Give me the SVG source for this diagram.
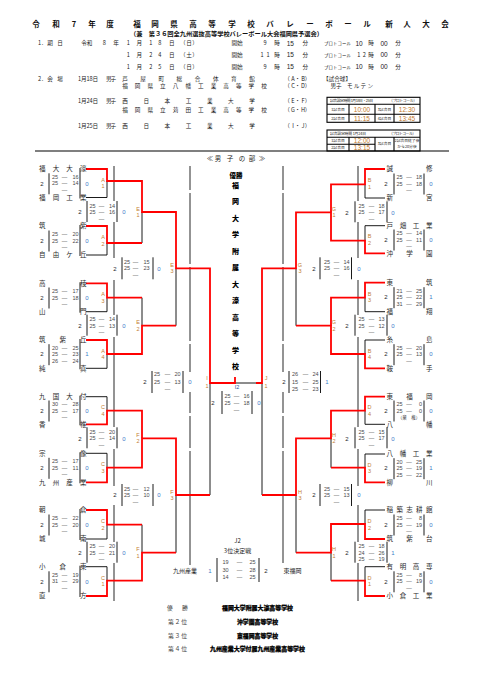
<svg xmlns="http://www.w3.org/2000/svg" width="477" height="677" viewBox="0 0 477 677">
<style>
text{font-family:"Noto Sans CJK JP","Noto Sans CJK SC",sans-serif}
.tt{font-size:7.5px;font-weight:bold;fill:#111;text-anchor:middle}
.st{font-size:6.2px;font-weight:bold;fill:#111}
.hd{font-size:5.6px;fill:#222}
.tn{font-family:"Liberation Sans",sans-serif;font-size:6.5px;fill:#222;text-anchor:middle}
.pr{font-size:4.4px;fill:#222}
.tb{font-size:3.8px;fill:#222}
.tm{font-family:"Liberation Sans",sans-serif;font-size:6.5px;fill:#c47a2c;text-anchor:middle}
.c{text-anchor:middle}
.e{text-anchor:end}
.n{font-size:6.5px;fill:#2a2a2a}
.s{font-family:"Liberation Sans",sans-serif;font-size:5.5px;fill:#4a4a4a}
.w{font-family:"Liberation Sans",sans-serif;font-size:6px;fill:#2a2a2a;text-anchor:middle}
.l{font-family:"Liberation Sans",sans-serif;font-size:6px;fill:#3d7cc9;text-anchor:middle}
.lb{font-family:"Liberation Sans",sans-serif;font-size:5.5px;fill:#c27d32;text-anchor:middle}
.k{stroke:#000;stroke-width:0.9;fill:none}
.ln{stroke:#000;stroke-width:0.85;fill:none}
.r{stroke:#f00;stroke-width:1.8;fill:none}
.tbl{stroke:#000;stroke-width:1.1;fill:none}
.v{font-size:7px;font-weight:900;fill:#000;text-anchor:middle}
.rl{font-size:5.8px;fill:#444}
.rb{font-size:6px;font-weight:900;fill:#000;stroke:#000;stroke-width:0.25}
.m{font-size:6px;fill:#222}
</style>

<g id="header">
<text class="tt" x="36 56 74 92 110 137 155 174 193 212 232 251 270 290 310 329 348 367 389 407 426 445" y="27">令和7年度福岡県高等学校バレーボール新人大会</text>
<text class="st" x="130" y="35.6" textLength="193" lengthAdjust="spacingAndGlyphs">（兼　第３６回全九州選抜高等学校バレーボール大会福岡県予選会）</text>

<text class="hd c" x="39.5 42.5 50 60" y="45.3">1.期日</text>
<text class="hd c" x="84 89.5 104.3 116" y="45.3">令和8年</text>
<text class="hd c" x="128.3 139.3 150.7 159.7 171.7 182.7 189 195" y="45.3">1月18日（日）</text>
<text class="hd c" x="237" y="45.3">開始</text>
<text class="hd c" x="265 277" y="45.3">9時</text><text class="tn" x="290.3" y="45.5">15</text><text class="hd c" x="305.3" y="45.3">分</text>
<text class="pr" x="324" y="45.3" textLength="27">プロトコール</text>
<text class="tn" x="359" y="45.5">10</text><text class="hd c" x="371" y="45.3">時</text><text class="tn" x="384" y="45.5">00</text><text class="hd c" x="398" y="45.3">分</text>

<text class="hd c" x="128.3 139.3 150.7 159.7 171.7 182.7 189 195" y="56.5">1月24日（土）</text>
<text class="hd c" x="237" y="56.5">開始</text>
<text class="hd c" x="262 268 277" y="56.5">11時</text><text class="tn" x="290.3" y="56.7">15</text><text class="hd c" x="305.3" y="56.5">分</text>
<text class="pr" x="324" y="56.5" textLength="27">プロトコール</text>
<text class="hd c" x="358.7 364.3 371" y="56.5">12時</text><text class="tn" x="384" y="56.7">00</text><text class="hd c" x="398" y="56.5">分</text>

<text class="hd c" x="128.3 139.3 150.7 159.7 171.7 182.7 189 195" y="68.5">1月25日（日）</text>
<text class="hd c" x="237" y="68.5">開始</text>
<text class="hd c" x="265 277" y="68.5">9時</text><text class="tn" x="290.3" y="68.7">15</text><text class="hd c" x="305.3" y="68.5">分</text>
<text class="pr" x="324" y="68.5" textLength="27">プロトコール</text>
<text class="tn" x="359" y="68.7">10</text><text class="hd c" x="371" y="68.5">時</text><text class="tn" x="384" y="68.7">00</text><text class="hd c" x="398" y="68.5">分</text>

<text class="hd c" x="39.5 42.5 50 60" y="80.7">2.会場</text>
<text class="hd" x="78" y="80.7" textLength="20">1月18日</text>
<text class="hd" x="106" y="80.7" textLength="10">男子</text>
<text class="hd c" x="125 143.1 161.3 179.4 197.6 215.7 233.9 252" y="80.7">芦屋町総合体育館</text>
<text class="hd c" x="287 293 297.5 303 307.5" y="80.7">（A・B）</text>
<text class="hd c" x="337" y="80.7">【試合球】</text>
<text class="hd c" x="125 137.6 150.3 162.9 175.5 188.2 200.8 213.5 226.1 238.7 251.4 264" y="88">福岡県立八幡工業高等学校</text>
<text class="hd c" x="287 293 297.5 303 307.5" y="88">（C・D）</text>
<text class="hd c" x="336" y="88">男子</text>
<text class="hd" x="347" y="88" textLength="26">モルテン</text>

<text class="hd" x="78" y="103" textLength="20">1月24日</text>
<text class="hd" x="106" y="103" textLength="10">男子</text>
<text class="hd c" x="125 146.2 167.3 188.5 209.7 230.8 252" y="103">西日本工業大学</text>
<text class="hd c" x="287 293 297.5 303 307.5" y="103">（E・F）</text>
<text class="hd c" x="125 137.6 150.3 162.9 175.5 188.2 200.8 213.5 226.1 238.7 251.4 264" y="111.5">福岡県立苅田工業高等学校</text>
<text class="hd c" x="287 293 297.5 303 307.5" y="111.5">（G・H）</text>

<text class="hd" x="78" y="128" textLength="20">1月25日</text>
<text class="hd" x="106" y="128" textLength="10">男子</text>
<text class="hd c" x="125 146.2 167.3 188.5 209.7 230.8 252" y="128">西日本工業大学</text>
<text class="hd c" x="287 293 297.5 303 307.5" y="128">（I・J）</text>

<line class="tbl" x1="35" y1="151" x2="449" y2="151"/>
<text class="c" style="font-size:6.5px;fill:#222" x="210 218 230 242 252 262" y="160.5">≪男子の部≫</text>
</g>

<g id="table-1">
<rect class="tbl" x="327" y="97.3" width="93" height="25"/>
<path class="tbl" d="M327 104.3H420M327 114.3H420M349 104.3V122.3M375 104.3V122.3M394 104.3V122.3"/>
<text class="tb" x="330" y="102.3" textLength="43">試合設定時間 1月18日・25日</text>
<text class="tb" x="389" y="102.3" textLength="28">（プロトコール）</text>
<text class="tb c" x="338" y="110.7">1試合目</text><text class="tm" x="362" y="111.8">10:00</text>
<text class="tb c" x="384.5" y="110.7">3試合目</text><text class="tm" x="407" y="111.8">12:30</text>
<text class="tb c" x="338" y="119.7">2試合目</text><text class="tm" x="362" y="120.8">11:15</text>
<text class="tb c" x="384.5" y="119.7">4試合目</text><text class="tm" x="407" y="120.8">13:45</text>
</g>

<g id="table-2">
<rect class="tbl" x="327" y="130" width="93" height="21"/>
<path class="tbl" d="M327 137.3H420M327 144.3H375M349 137.3V151M375 137.3V151M394 137.3V151"/>
<text class="tb" x="330" y="135" textLength="36">試合設定時間 1月24日</text>
<text class="tb" x="389" y="135" textLength="27">（プロトコール）</text>
<text class="tb c" x="338" y="142.2">1試合目</text><text class="tm" x="362" y="143.1">12:00</text>
<text class="tb c" x="338" y="149.2">2試合目</text><text class="tm" x="362" y="150.1">13:15</text>
<text class="tb c" x="384.5" y="145.4">3試合目</text>
<text class="tb c" x="407" y="142.3">2試合目終了後</text>
<text class="tb c" x="407" y="147.6">から20分後</text>
</g>

<g id="connectors">
<path class="ln" d="M114 166V201M114 222V258M114 280V315M114 337V427M114 449V486M114 505V542M114 563V601"/>
<path class="ln" d="M190 166V190M190 193V264M190 267V341M190 344V372M190 392V413M190 416V448M190 451V565"/>
<path class="ln" d="M283 166V190M283 193V264M283 267V341M283 344V372M283 392V413M283 416V448M283 451V563"/>
<path class="ln" d="M358 166V201M358 222V258M358 280V315M358 337V427M358 449V486M358 505V542M358 563V601"/>

<path class="k" d="M86 197.5H107V181M86 255H107V243M142 212V243M86 311.7H107V297.7M86 368.3H107V354M142 297.7V325.7M176 268.3V325.7M86 396.7H107V410.7M86 453.3H107V467.7M86 539H107V524.7M86 566.7H107V580.7M142 524.7V552.7M176 495V552.7M210 383V495M235 383H256"/>
<path class="k" d="M385 198H365V184.3M385 225.7H365V240.7M385 311.7H365V297.7M385 340H365V354M296 268.3V325.7M385 424.3H365V410.7M385 454H365V467.7M331 438.3V467.7M385 510H365V524M385 566.7H365V580.7M331 552.7V580.7M296 495V552.7M262 383V495"/>

<path class="r" d="M86 169H107V181H142V212H176V268.3H210V383H235V377"/>
<path class="r" d="M86 226H107V243H142"/>
<path class="r" d="M86 283.3H107V297.7H142"/>
<path class="r" d="M86 340H107V354H142V325.7H176"/>
<path class="r" d="M86 424.3H107V410.7H142V438.3"/>
<path class="r" d="M86 482.3H107V467.7H142V438.3H176V495H210"/>
<path class="r" d="M86 510H107V524.7H142"/>
<path class="r" d="M86 596H107V580.7H142V552.7H176"/>

<path class="r" d="M385 169H365V184.3H331V212.3"/>
<path class="r" d="M385 253.3H365V240.7H331V212.3H296V268.3H262V383H256"/>
<path class="r" d="M385 282.7H365V297.7H331V325.7"/>
<path class="r" d="M385 368.3H365V354H331V325.7H296"/>
<path class="r" d="M385 396.7H365V410.7H331V438.3H296V495H262"/>
<path class="r" d="M385 482.3H365V467.7H331"/>
<path class="r" d="M385 539H365V524H331V552.7H296"/>
<path class="r" d="M385 596H365V580.7H331"/>
</g>

<g id="m-A1">
<text class="n" x="39 52.7 66.3 80" y="171.4">福大大濠</text>
<text class="n" x="39 52.7 66.3 80" y="199.9">福岡工業</text>
<text class="w" x="42" y="185.5">2</text>
<path class="k" d="M49 173.3V194.3M80 168V198.5"/>
<text class="s" x="52 55.1 61.8 72.4 75.4" y="178.7">25—16</text>
<text class="s" x="52 55.1 61.8 72.4 75.4" y="185.3">25—14</text>
<text class="s c" x="64.5" y="192">—</text>
<text class="l" x="87" y="185.5">0</text>
<text class="lb" x="103 103" y="181.8 188.3">A1</text>
</g>
<g id="m-A2">
<text class="n" x="39 80" y="228.4">筑紫</text>
<text class="n" x="39 52.7 66.3 80" y="257.4">自由ケ丘</text>
<text class="w" x="42" y="242.7">2</text>
<path class="k" d="M49 230.5V251.5M80 225V256"/>
<text class="s" x="52 55.1 61.8 72.4 75.4" y="236">25—20</text>
<text class="s" x="52 55.1 61.8 72.4 75.4" y="242.5">25—22</text>
<text class="s c" x="64.5" y="249">—</text>
<text class="l" x="87" y="242.7">0</text>
<text class="lb" x="103 103" y="239 245.5">A2</text>
</g>
<g id="m-A3">
<text class="n" x="39 80" y="285.7">高稜</text>
<text class="n" x="39 80" y="314.1">山門</text>
<text class="w" x="42" y="299.7">2</text>
<path class="k" d="M49 287.5V308.5M80 282.3V312.7"/>
<text class="s" x="52 55.1 61.8 72.4 75.4" y="293">25—17</text>
<text class="s" x="52 55.1 61.8 72.4 75.4" y="299.5">25—18</text>
<text class="s c" x="64.5" y="306">—</text>
<text class="l" x="87" y="299.7">0</text>
<text class="lb" x="103 103" y="296 302.5">A3</text>
</g>
<g id="m-A4">
<text class="n" x="39 59.5 80" y="342.4">筑紫丘</text>
<text class="n" x="39 80" y="370.7">純真</text>
<text class="w" x="42" y="356.4">2</text>
<path class="k" d="M49 344.2V365.2M80 339V369.3"/>
<text class="s" x="52 55.1 61.8 72.4 75.4" y="349.7">20—25</text>
<text class="s" x="52 55.1 61.8 72.4 75.4" y="356.2">25—23</text>
<text class="s" x="52 55.1 61.8 72.4 75.4" y="362.7">26—24</text>
<text class="l" x="87" y="356.4">1</text>
<text class="lb" x="103 103" y="352.7 359.2">A4</text>
</g>
<g id="m-C4">
<text class="n" x="39 52.7 66.3 80" y="399.1">九国大付</text>
<text class="n" x="39 80" y="426.7">香椎</text>
<text class="w" x="42" y="412.7">2</text>
<path class="k" d="M49 400.5V421.5M80 395.7V425.3"/>
<text class="s" x="52 55.1 61.8 72.4 75.4" y="406">30—28</text>
<text class="s" x="52 55.1 61.8 72.4 75.4" y="412.5">25—17</text>
<text class="s c" x="64.5" y="419">—</text>
<text class="l" x="87" y="412.7">0</text>
<text class="lb" x="103 103" y="409 415.5">C4</text>
</g>
<g id="m-C3">
<text class="n" x="39 80" y="455.7">宗像</text>
<text class="n" x="39 52.7 66.3 80" y="484.7">九州産業</text>
<text class="w" x="42" y="470">2</text>
<path class="k" d="M49 457.8V478.8M80 452.3V483.3"/>
<text class="s" x="52 55.1 61.8 72.4 75.4" y="463.3">25—17</text>
<text class="s" x="52 55.1 61.8 72.4 75.4" y="469.8">25—11</text>
<text class="s c" x="64.5" y="476.3">—</text>
<text class="l" x="87" y="470">0</text>
<text class="lb" x="103 103" y="466.3 472.8">C3</text>
</g>
<g id="m-C2">
<text class="n" x="39 80" y="512.4">朝倉</text>
<text class="n" x="39 80" y="541.4">城南</text>
<text class="w" x="42" y="526.7">2</text>
<path class="k" d="M49 514.5V535.5M80 509V540"/>
<text class="s" x="52 55.1 61.8 72.4 75.4" y="520">25—22</text>
<text class="s" x="52 55.1 61.8 72.4 75.4" y="526.5">25—20</text>
<text class="s c" x="64.5" y="533">—</text>
<text class="l" x="87" y="526.7">0</text>
<text class="lb" x="103 103" y="523 529.5">C2</text>
</g>
<g id="m-C1">
<text class="n" x="39 59.5 80" y="569.1">小倉東</text>
<text class="n" x="39 80" y="598.4">直方</text>
<text class="w" x="42" y="583.5">2</text>
<path class="k" d="M49 571.3V592.3M80 565.7V597"/>
<text class="s" x="52 55.1 61.8 72.4 75.4" y="576.8">25—19</text>
<text class="s" x="52 55.1 61.8 72.4 75.4" y="583.3">31—29</text>
<text class="s c" x="64.5" y="589.8">—</text>
<text class="l" x="87" y="583.5">0</text>
<text class="lb" x="103 103" y="579.8 586.3">C1</text>
</g>

<g id="m-E1">
<text class="w" x="80" y="214.2">2</text>
<path class="k" d="M87 201V222M117 201V222"/>
<text class="s" x="89.5 92.6 98.8 108.9 111.9" y="207.5">25—14</text>
<text class="s" x="89.5 92.6 98.8 108.9 111.9" y="214">25—16</text>
<text class="s c" x="101.5" y="220.5">—</text>
<text class="l" x="124" y="214.2">0</text>
<text class="lb" x="138 138" y="210.5 217">E1</text>
</g>
<g id="m-E2">
<text class="w" x="80" y="327.9">2</text>
<path class="k" d="M87 314.7V335.7M117 314.7V335.7"/>
<text class="s" x="89.5 92.6 98.8 108.9 111.9" y="321.2">25—14</text>
<text class="s" x="89.5 92.6 98.8 108.9 111.9" y="327.7">25—13</text>
<text class="s c" x="101.5" y="334.2">—</text>
<text class="l" x="124" y="327.9">0</text>
<text class="lb" x="138 138" y="324.2 330.7">E2</text>
</g>
<g id="m-F2">
<text class="w" x="80" y="440.5">2</text>
<path class="k" d="M87 427.3V448.3M117 427.3V448.3"/>
<text class="s" x="89.5 92.6 98.8 108.9 111.9" y="433.8">25—20</text>
<text class="s" x="89.5 92.6 98.8 108.9 111.9" y="440.3">25—14</text>
<text class="s c" x="101.5" y="446.8">—</text>
<text class="l" x="124" y="440.5">0</text>
<text class="lb" x="138 138" y="436.8 443.3">F2</text>
</g>
<g id="m-F1">
<text class="w" x="80" y="554.9">2</text>
<path class="k" d="M87 541.7V562.7M117 541.7V562.7"/>
<text class="s" x="89.5 92.6 98.8 108.9 111.9" y="548.2">25—20</text>
<text class="s" x="89.5 92.6 98.8 108.9 111.9" y="554.7">25—21</text>
<text class="s c" x="101.5" y="561.2">—</text>
<text class="l" x="124" y="554.9">0</text>
<text class="lb" x="138 138" y="551.2 557.7">F1</text>
</g>
<g id="m-E3">
<text class="w" x="115" y="270.5">2</text>
<path class="k" d="M122 257.3V279.3M153 257.3V279.3"/>
<text class="s" x="124 127.1 132.8 143.4 146.4" y="263.8">25—15</text>
<text class="s" x="124 127.1 132.8 143.4 146.4" y="270.3">25—23</text>
<text class="s c" x="135.5" y="276.8">—</text>
<text class="l" x="159" y="270.5">0</text>
<text class="lb" x="172 172" y="266.8 273.3">E3</text>
</g>
<g id="m-F3">
<text class="w" x="115" y="497.2">2</text>
<path class="k" d="M122 484V506M153 484V506"/>
<text class="s" x="124 127.1 132.8 143.4 146.4" y="490.5">25—12</text>
<text class="s" x="124 127.1 132.8 143.4 146.4" y="497">25—10</text>
<text class="s c" x="135.5" y="503.5">—</text>
<text class="l" x="159" y="497.2">0</text>
<text class="lb" x="172 172" y="493.5 500">F3</text>
</g>
<g id="m-I1">
<text class="w" x="145" y="384">2</text>
<path class="k" d="M152 371V393M183 371V393"/>
<text class="s" x="154 157.1 164.8 174.4 177.4" y="376.3">25—20</text>
<text class="s" x="154 157.1 164.8 174.4 177.4" y="383.7">25—13</text>
<text class="s c" x="167.5" y="391">—</text>
<text class="l" x="190" y="384">0</text>
<text class="lb" x="207 207" y="380.3 387.7">I1</text>
</g>

<g id="m-B1">
<text class="n" x="386.5 426" y="171.4">誠修</text>
<text class="n" x="386.5 426" y="200.4">新宮</text>
<text class="w" x="386" y="185.7">2</text>
<path class="k" d="M394 173.5V194.5M424 173.5V194.5"/>
<text class="s" x="396.5 399.6 406.3 415.9 418.9" y="178.9">25—18</text>
<text class="s" x="396.5 399.6 406.3 415.9 418.9" y="185.5">25—18</text>
<text class="s c" x="409" y="192.2">—</text>
<text class="l" x="431" y="185.7">0</text>
<text class="lb" x="369.5 369.5" y="182 188.5">B1</text>
</g>
<g id="m-B2">
<text class="n" x="386.5 399.7 412.8 426" y="228.1">戸畑工業</text>
<text class="n" x="386.5 406.3 426" y="255.7">沖学園</text>
<text class="w" x="386" y="241.7">2</text>
<path class="k" d="M394 229.5V250.5M424 229.5V250.5"/>
<text class="s" x="396.5 399.6 406.3 415.9 418.9" y="234.9">25—14</text>
<text class="s" x="396.5 399.6 406.3 415.9 418.9" y="241.5">25—11</text>
<text class="s c" x="409" y="248.2">—</text>
<text class="l" x="431" y="241.7">0</text>
<text class="lb" x="369.5 369.5" y="238 244.5">B2</text>
</g>
<g id="m-B3">
<text class="n" x="386.5 426" y="285.1">東筑</text>
<text class="n" x="386.5 426" y="314.1">福翔</text>
<text class="w" x="386" y="299.4">2</text>
<path class="k" d="M394 287.2V308.2M424 287.2V308.2"/>
<text class="s" x="396.5 399.6 406.3 415.9 418.9" y="292.6">21—25</text>
<text class="s" x="396.5 399.6 406.3 415.9 418.9" y="299.2">25—22</text>
<text class="s" x="396.5 399.6 406.3 415.9 418.9" y="305.9">31—29</text>
<text class="l" x="431" y="299.4">1</text>
<text class="lb" x="369.5 369.5" y="295.7 302.2">B3</text>
</g>
<g id="m-B4">
<text class="n" x="386.5 426" y="342.4">糸島</text>
<text class="n" x="386.5 426" y="370.7">鞍手</text>
<text class="w" x="386" y="356.4">2</text>
<path class="k" d="M394 344.2V365.2M424 344.2V365.2"/>
<text class="s" x="396.5 399.6 406.3 415.9 418.9" y="349.6">25—20</text>
<text class="s" x="396.5 399.6 406.3 415.9 418.9" y="356.2">25—13</text>
<text class="s c" x="409" y="362.9">—</text>
<text class="l" x="431" y="356.4">0</text>
<text class="lb" x="369.5 369.5" y="352.7 359.2">B4</text>
</g>
<g id="m-D4">
<text class="n" x="386.5 406.3 426" y="399.1">東福岡</text>
<text class="n" x="386.5 426" y="426.7">八幡</text>
<text class="w" x="386" y="412.7">2</text>
<path class="k" d="M394 400.5V421.5M424 400.5V421.5"/>
<text class="s" x="396.5 399.6 406.3 418.9" y="405.9">25—0</text>
<text class="s" x="396.5 399.6 406.3 418.9" y="412.5">25—0</text>
<text class="c" style="font-size:4.5px;fill:#4a4a4a" x="409" y="418.6">（棄　権）</text>
<text class="l" x="431" y="412.7">0</text>
<text class="lb" x="369.5 369.5" y="409 415.5">D4</text>
</g>
<g id="m-D3">
<text class="n" x="386.5 399.7 412.8 426" y="456.4">八幡工業</text>
<text class="n" x="386.5 426" y="484.7">柳川</text>
<text class="w" x="386" y="470.4">2</text>
<path class="k" d="M394 458.2V479.2M424 458.2V479.2"/>
<text class="s" x="396.5 399.6 406.3 415.9 418.9" y="463.6">20—25</text>
<text class="s" x="396.5 399.6 406.3 415.9 418.9" y="470.2">25—19</text>
<text class="s" x="396.5 399.6 406.3 415.9 418.9" y="476.9">25—22</text>
<text class="l" x="431" y="470.4">1</text>
<text class="lb" x="369.5 369.5" y="466.7 473.2">D3</text>
</g>
<g id="m-D2">
<text class="n" x="386.5 396.4 406.3 416.1 426" y="512.4">稲築志耕館</text>
<text class="n" x="386.5 406.3 426" y="541.4">筑紫台</text>
<text class="w" x="386" y="526.7">2</text>
<path class="k" d="M394 514.5V535.5M424 514.5V535.5"/>
<text class="s" x="396.5 399.6 406.3 418.9" y="519.9">25—8</text>
<text class="s" x="396.5 399.6 406.3 415.9 418.9" y="526.5">25—19</text>
<text class="s c" x="409" y="533.2">—</text>
<text class="l" x="431" y="526.7">0</text>
<text class="lb" x="369.5 369.5" y="523 529.5">D2</text>
</g>
<g id="m-D1">
<text class="n" x="386.5 399.7 412.8 426" y="569.1">有明高専</text>
<text class="n" x="386.5 399.7 412.8 426" y="598.4">小倉工業</text>
<text class="w" x="386" y="583.5">2</text>
<path class="k" d="M394 571.3V592.3M424 571.3V592.3"/>
<text class="s" x="396.5 399.6 406.3 418.9" y="576.7">25—8</text>
<text class="s" x="396.5 399.6 406.3 415.9 418.9" y="583.3">25—19</text>
<text class="s c" x="409" y="590">—</text>
<text class="l" x="431" y="583.5">0</text>
<text class="lb" x="369.5 369.5" y="579.8 586.3">D1</text>
</g>

<g id="m-G1">
<text class="lb" x="334 334" y="210.8 217.3">G1</text>
<text class="w" x="347" y="214.5">2</text>
<path class="k" d="M355 201.3V222.3M387 201.3V222.3"/>
<text class="s" x="358.5 361.6 368.8 378.4 381.4" y="207.8">25—18</text>
<text class="s" x="358.5 361.6 368.8 378.4 381.4" y="214.3">25—17</text>
<text class="s c" x="371.5" y="220.8">—</text>
<text class="l" x="393" y="214.5">0</text>
</g>
<g id="m-G2">
<text class="lb" x="334 334" y="324.2 330.7">G2</text>
<text class="w" x="347" y="327.9">2</text>
<path class="k" d="M355 314.7V335.7M387 314.7V335.7"/>
<text class="s" x="358.5 361.6 368.8 378.4 381.4" y="321.2">25—13</text>
<text class="s" x="358.5 361.6 368.8 378.4 381.4" y="327.7">25—12</text>
<text class="s c" x="371.5" y="334.2">—</text>
<text class="l" x="393" y="327.9">0</text>
</g>
<g id="m-H2">
<text class="lb" x="334 334" y="436.8 443.3">H2</text>
<text class="w" x="347" y="440.5">2</text>
<path class="k" d="M355 427.3V448.3M387 427.3V448.3"/>
<text class="s" x="358.5 361.6 368.8 378.4 381.4" y="433.8">25—15</text>
<text class="s" x="358.5 361.6 368.8 378.4 381.4" y="440.3">25—17</text>
<text class="s c" x="371.5" y="446.8">—</text>
<text class="l" x="393" y="440.5">0</text>
</g>
<g id="m-H1">
<text class="lb" x="334 334" y="551.2 557.7">H1</text>
<text class="w" x="347" y="554.9">2</text>
<path class="k" d="M355 541.7V562.7M387 541.7V562.7"/>
<text class="s" x="358.5 361.6 368.8 378.4 381.4" y="548.2">25—18</text>
<text class="s" x="358.5 361.6 368.8 378.4 381.4" y="554.7">24—26</text>
<text class="s" x="358.5 361.6 368.8 378.4 381.4" y="561.2">25—19</text>
<text class="l" x="393" y="554.9">1</text>
</g>
<g id="m-G3">
<text class="lb" x="300 300" y="266.8 273.3">G3</text>
<text class="w" x="314" y="270.5">2</text>
<path class="k" d="M320 257.3V279.3M351.5 257.3V279.3"/>
<text class="s" x="324 327.1 333.8 343.4 346.4" y="263.8">25—14</text>
<text class="s" x="324 327.1 333.8 343.4 346.4" y="270.3">25—16</text>
<text class="s c" x="336.5" y="276.8">—</text>
<text class="l" x="359" y="270.5">0</text>
</g>
<g id="m-H3">
<text class="lb" x="300 300" y="493.5 500">H3</text>
<text class="w" x="314" y="497.2">2</text>
<path class="k" d="M320 484V506M351.5 484V506"/>
<text class="s" x="324 327.1 333.8 343.4 346.4" y="490.5">25—15</text>
<text class="s" x="324 327.1 333.8 343.4 346.4" y="497">25—13</text>
<text class="s c" x="336.5" y="503.5">—</text>
<text class="l" x="359" y="497.2">0</text>
</g>
<g id="m-J1">
<text class="lb" x="266 266" y="380.3 387.7">J1</text>
<text class="w" x="284" y="384">2</text>
<path class="k" d="M289 371V393M320.5 371V393"/>
<text class="s" x="292 295.1 302.8 312.4 315.4" y="376.3">26—24</text>
<text class="s" x="292 295.1 302.8 312.4 315.4" y="383.7">15—25</text>
<text class="s" x="292 295.1 302.8 312.4 315.4" y="391">25—23</text>
<text class="l" x="327" y="384">1</text>
</g>

<g id="m-I2">
<text class="c" style="font-family:'Liberation Sans',sans-serif;font-size:5.5px;fill:#2b4f9e" x="237" y="388.5">I2</text>
<text class="w" x="213" y="405">2</text>
<path class="k" d="M222 391V414M252 391V414"/>
<text class="s" x="224.5 227.6 233.8 243.4 246.4" y="398">25—16</text>
<text class="s" x="224.5 227.6 233.8 243.4 246.4" y="405">25—18</text>
<text class="s c" x="236.5" y="412">—</text>
<text class="l" x="259" y="405">0</text>
</g>

<g id="champion">
<text class="v" style="font-size:6.5px" x="236" y="177.5">優勝</text>
<text class="v" x="235.5 235.5 235.5 235.5 235.5 235.5 235.5 235.5 235.5 235.5 235.5 235.5" y="187.6 204.1 220.6 237.1 253.6 270.1 286.6 303.1 319.6 336.1 352.6 369.1">福岡大学附属大濠高等学校</text>
</g>

<g id="m-J2">
<text class="m c" x="237.5" y="543">J2</text>
<text class="m c" x="237.5" y="553">3位決定戦</text>
<text class="m e" x="197" y="573">九州産業</text>
<text class="l" x="210" y="573">1</text>
<path class="k" d="M217 558V582M259 558V582"/>
<text class="s" x="222.5 225.6 236.8 249.4 252.4" y="564">19—25</text>
<text class="s" x="222.5 225.6 236.8 249.4 252.4" y="571.5">30—28</text>
<text class="s" x="222.5 225.6 236.8 249.4 252.4" y="579">14—25</text>
<text class="w" x="266" y="573">2</text>
<text class="m" x="283.5" y="573">東福岡</text>
</g>

<g id="results">
<text class="rl c" x="170 185" y="610">優勝</text>
<text class="rb" x="222" y="610" textLength="71" lengthAdjust="spacingAndGlyphs">福岡大学附属大濠高等学校</text>
<text class="rl" x="168" y="624" textLength="19">第２位</text>
<text class="rb" x="237" y="624" textLength="41" lengthAdjust="spacingAndGlyphs">沖学園高等学校</text>
<text class="rl" x="168" y="638" textLength="19">第３位</text>
<text class="rb" x="237" y="638" textLength="41" lengthAdjust="spacingAndGlyphs">東福岡高等学校</text>
<text class="rl" x="168" y="651" textLength="19">第４位</text>
<text class="rb" x="210" y="651" textLength="95" lengthAdjust="spacingAndGlyphs">九州産業大学付属九州産業高等学校</text>
</g>
</svg>
